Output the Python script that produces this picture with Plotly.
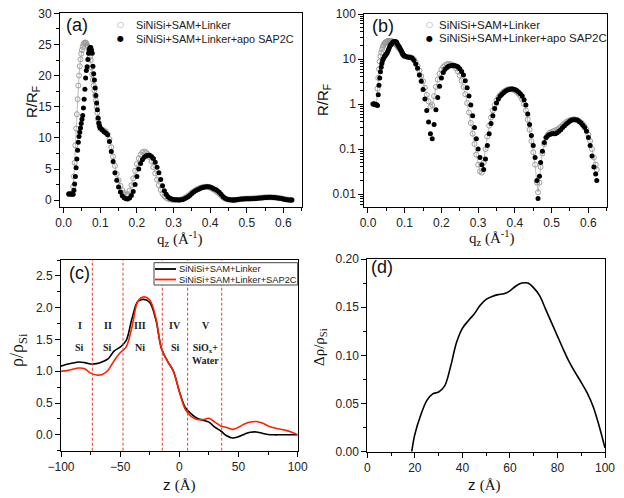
import plotly.graph_objects as go

# reflectivity data (panels a and b share the same data)
q = [0.014, 0.017, 0.020, 0.023, 0.026, 0.028, 0.030, 0.032, 0.034, 0.036, 0.038, 0.040,
     0.042, 0.044, 0.046, 0.048, 0.050, 0.052, 0.054, 0.056, 0.058, 0.060, 0.062, 0.064,
     0.066, 0.068, 0.070, 0.072, 0.074, 0.076, 0.078, 0.080, 0.082, 0.084, 0.086, 0.088,
     0.090, 0.092, 0.094, 0.096, 0.098, 0.100, 0.105, 0.110, 0.115, 0.120, 0.125, 0.130,
     0.135, 0.140, 0.145, 0.150, 0.155, 0.160, 0.165, 0.170, 0.175, 0.180, 0.185, 0.190,
     0.195, 0.200, 0.205, 0.210, 0.215, 0.220, 0.225, 0.230, 0.235, 0.240, 0.245, 0.250,
     0.255, 0.260, 0.265, 0.270, 0.275, 0.280, 0.285, 0.290, 0.295, 0.300, 0.305, 0.310,
     0.315, 0.320, 0.325, 0.330, 0.335, 0.340, 0.345, 0.350, 0.355, 0.360, 0.365, 0.370,
     0.375, 0.380, 0.385, 0.390, 0.395, 0.400, 0.405, 0.410, 0.415, 0.420, 0.425, 0.430,
     0.435, 0.440, 0.445, 0.450, 0.455, 0.460, 0.463, 0.467, 0.470, 0.475, 0.480, 0.485,
     0.490, 0.495, 0.500, 0.505, 0.510, 0.515, 0.520, 0.525, 0.530, 0.535, 0.540, 0.545,
     0.550, 0.555, 0.560, 0.565, 0.570, 0.575, 0.580, 0.585, 0.590, 0.595, 0.600, 0.605,
     0.610, 0.615, 0.620, 0.623]

r_linker = [1.0, 1.0, 0.98, 0.97, 2.2, 3.8, 6.0, 8.8, 11.5, 13.8, 16.2, 18.4,
            20.0, 21.5, 22.6, 23.5, 24.1, 24.6, 25.0, 25.2, 25.3, 25.3, 25.2, 24.9,
            24.6, 24.2, 23.6, 23.0, 22.5, 21.3, 20.2, 19.3, 18.4, 17.6, 16.8, 16.0,
            15.0, 14.0, 13.0, 12.3, 11.8, 11.5, 11.3, 11.2, 11.0, 10.6, 9.8, 8.5,
            7.0, 5.5, 4.2, 3.2, 2.3, 1.6, 1.15, 0.88, 0.95, 1.5, 2.4, 3.5,
            4.7, 5.8, 6.7, 7.3, 7.7, 7.8, 7.7, 7.4, 6.9, 6.2, 5.3, 4.3,
            3.3, 2.4, 1.65, 1.05, 0.65, 0.38, 0.22, 0.13, 0.075, 0.045, 0.032, 0.03,
            0.05, 0.1, 0.19, 0.33, 0.5, 0.72, 0.95, 1.2, 1.4, 1.6, 1.75, 1.9,
            2.0, 2.1, 2.15, 2.15, 2.1, 2.0, 1.85, 1.7, 1.5, 1.25, 1.0, 0.72,
            0.45, 0.27, 0.15, 0.085, 0.045, 0.018, 0.011, 0.018, 0.04, 0.08, 0.13, 0.18,
            0.21, 0.23, 0.24, 0.25, 0.26, 0.27, 0.29, 0.31, 0.34, 0.37, 0.40, 0.42,
            0.44, 0.45, 0.46, 0.45, 0.44, 0.42, 0.39, 0.36, 0.32, 0.27, 0.21, 0.15,
            0.10, 0.065, 0.045, 0.035]

r_sap2c = [1.0, 1.0, 0.98, 0.97, 0.93, 1.6, 2.6, 3.8, 5.2, 6.6, 8.0, 9.3,
           10.2, 10.9, 11.6, 12.3, 13.0, 13.6, 14.8, 16.2, 17.8, 19.6, 20.8, 21.4,
           22.6, 23.6, 24.2, 24.5, 24.5, 24.1, 23.6, 21.5, 20.3, 19.3, 18.0, 16.8,
           15.6, 14.5, 13.2, 12.4, 11.9, 11.6, 11.3, 11.0, 10.8, 10.5, 9.4, 7.8,
           6.2, 4.4, 3.2, 2.1, 1.3, 0.72, 0.40, 0.22, 0.17, 0.35, 0.75, 1.4,
           2.5, 3.8, 5.0, 5.9, 6.5, 6.9, 7.1, 7.2, 7.2, 7.0, 6.7, 6.1,
           5.3, 4.4, 3.3, 2.3, 1.5, 0.95, 0.55, 0.30, 0.17, 0.10, 0.065, 0.045,
           0.035, 0.06, 0.12, 0.22, 0.37, 0.55, 0.80, 1.05, 1.3, 1.5, 1.65, 1.8,
           1.95, 2.05, 2.1, 2.15, 2.15, 2.1, 2.0, 1.85, 1.7, 1.5, 1.25, 0.95,
           0.6, 0.35, 0.2, 0.12, 0.065, 0.02, 0.008, 0.025, 0.05, 0.09, 0.14, 0.18,
           0.2, 0.21, 0.22, 0.22, 0.22, 0.23, 0.25, 0.27, 0.30, 0.33, 0.36, 0.39,
           0.42, 0.44, 0.45, 0.45, 0.44, 0.41, 0.38, 0.34, 0.30, 0.25, 0.18, 0.12,
           0.07, 0.04, 0.028, 0.02]

# density profiles (panel c)
z_c = [-100, -95, -90, -85, -80, -75, -70, -65, -60, -55, -50, -45, -40, -35, -30, -25,
       -20, -15, -10, -5, 0, 5, 10, 15, 20, 25, 30, 35, 40, 45, 50, 55, 60, 65, 70, 75,
       80, 85, 90, 95, 100]
rho_linker = [1.08, 1.11, 1.13, 1.145, 1.135, 1.115, 1.12, 1.15, 1.2, 1.32, 1.38, 1.48,
              1.83, 2.1, 2.13, 2.08, 1.82, 1.35, 1.16, 1.0, 0.68, 0.43, 0.33, 0.26,
              0.23, 0.2, 0.12, 0.06, -0.015, -0.05, -0.03, 0.01, 0.04, 0.045, 0.025,
              0.005, 0.0, 0.0, 0.0, 0.0, 0.0]
rho_sap2c = [1.0, 1.01, 1.03, 1.05, 1.04, 0.97, 0.94, 0.95, 1.02, 1.17, 1.29, 1.38,
             1.7, 2.1, 2.17, 2.12, 1.85, 1.35, 1.16, 1.0, 0.68, 0.4, 0.29, 0.24,
             0.24, 0.26, 0.2, 0.14, 0.115, 0.085, 0.12, 0.17, 0.2, 0.21, 0.185,
             0.14, 0.11, 0.09, 0.07, 0.04, 0.0]
boundaries = [-73.5, -47.6, -14.4, 7.0, 35.8]
region_z = [-84, -60.6, -33.5, -3.4, 22.3]
region_num = ["I", "II", "III", "IV", "V"]
region_mat = ["Si", "Si", "Ni", "Si", "SiO<sub>x</sub>+<br>Water"]

# difference profile (panel d)
z_d = [18.7, 20, 22.5, 25, 27.5, 30, 32.5, 35, 37.5, 40, 42.5, 45, 47.5, 50, 52.5, 55,
       57.5, 60, 62.5, 65, 67.5, 70, 72.5, 75, 77.5, 80, 82.5, 85, 87.5, 90, 92.5, 95,
       97.5, 100]
drho = [0.0, 0.018, 0.038, 0.053, 0.060, 0.062, 0.068, 0.088, 0.113, 0.128, 0.136, 0.143,
        0.152, 0.158, 0.161, 0.163, 0.164, 0.167, 0.172, 0.175, 0.175, 0.17, 0.162, 0.148,
        0.134, 0.12, 0.106, 0.093, 0.082, 0.072, 0.061, 0.047, 0.027, 0.004]

name_linker = "SiNiSi+SAM+Linker"
name_apo = "SiNiSi+SAM+Linker+apo SAP2C"
name_sap2c = "SiNiSi+SAM+Linker+SAP2C"

W, H = 624, 498
SANS = "Liberation Sans, Arial"
SERIF = "Liberation Serif, Times New Roman"
OPEN_GRAY = "#959595"
RED = "#ff2200"

def px(x, y):
    return x / W, 1 - y / H

fig = go.Figure()

for xa, ya in [("x", "y"), ("x2", "y2")]:
    fig.add_trace(go.Scatter(x=q, y=r_linker, xaxis=xa, yaxis=ya, mode="lines",
                             line=dict(color="#a0a0a0", width=0.7)))
    fig.add_trace(go.Scatter(x=q, y=r_linker, xaxis=xa, yaxis=ya, mode="markers",
                             name=name_linker,
                             marker=dict(symbol="circle-open", size=5, color=OPEN_GRAY,
                                         line=dict(width=0.9, color=OPEN_GRAY))))
    fig.add_trace(go.Scatter(x=q, y=r_sap2c, xaxis=xa, yaxis=ya, mode="markers",
                             name=name_apo,
                             marker=dict(symbol="circle", size=5, color="black")))

fig.add_trace(go.Scatter(x=z_c, y=rho_linker, xaxis="x3", yaxis="y3", mode="lines",
                         name=name_linker,
                         line=dict(color="black", width=1.6, shape="spline")))
fig.add_trace(go.Scatter(x=z_c, y=rho_sap2c, xaxis="x3", yaxis="y3", mode="lines",
                         name=name_sap2c,
                         line=dict(color=RED, width=1.6, shape="spline")))
fig.add_trace(go.Scatter(x=z_d, y=drho, xaxis="x4", yaxis="y4", mode="lines",
                         line=dict(color="black", width=1.6, shape="spline")))


def axis(domain, rng, dtick, mdtick, anchor, **kw):
    d = dict(domain=domain, range=rng, dtick=dtick, tick0=0, anchor=anchor,
             automargin=False,
             showline=True, mirror=True, linecolor="black", linewidth=1,
             ticks="outside", ticklen=5, tickcolor="black", showgrid=False, zeroline=False,
             tickfont=dict(family=SANS, size=12, color="#222"),
             minor=dict(dtick=mdtick, ticks="outside", ticklen=3, tickcolor="black"))
    d.update(kw)
    return d

log_minor = [m * 10 ** e for e in range(-3, 2) for m in range(2, 10)]

fig.update_layout(
    template="none",
    width=W, height=H, margin=dict(l=0, r=0, t=0, b=0, autoexpand=False), showlegend=False,
    paper_bgcolor="white", plot_bgcolor="white",
    xaxis=axis([60 / W, 301.7 / W], [-0.01, 0.65], 0.1, 0.05, "y", tickformat=".1f"),
    yaxis=axis([1 - 207 / H, 1 - 13.3 / H], [-1.1, 30], 5, 2.5, "x"),
    xaxis2=axis([364.3 / W, 606.7 / W], [-0.01, 0.65], 0.1, 0.05, "y2", tickformat=".1f"),
    yaxis2=axis([1 - 206.7 / H, 1 - 14 / H], [-2.28, 2], None, None, "x2", type="log",
                tickvals=[0.01, 0.1, 1, 10, 100], ticktext=["0.01", "0.1", "1", "10", "100"],
                minor=dict(tickvals=log_minor, ticks="outside", ticklen=3, tickcolor="black")),
    xaxis3=axis([61 / W, 297.7 / W], [-100, 100], 50, 25, "y3"),
    yaxis3=axis([1 - 450.7 / H, 1 - 260 / H], [-0.25, 2.75], 0.5, 0.25, "x3",
                tickformat=".1f"),
    xaxis4=axis([367.3 / W, 605 / W], [0, 100], 20, 10, "y4"),
    yaxis4=axis([1 - 451.7 / H, 1 - 259 / H], [0, 0.2], 0.05, 0.025, "x4",
                tickformat=".2f"),
)

shapes = []
for b in boundaries:
    shapes.append(dict(type="line", xref="x3", yref="y3 domain", x0=b, x1=b, y0=0, y1=1,
                       line=dict(color="#e04030", width=1, dash="3px,2px")))

# legend box for panel (c)
x0, y0 = px(154, 262.7)
x1, y1 = px(297.7, 285)
shapes.append(dict(type="rect", xref="paper", yref="paper", x0=x0, x1=x1, y0=y1, y1=y0,
                   fillcolor="white", line=dict(color="#444", width=1)))
for yy, col in [(269, "black"), (279.5, RED)]:
    a0, b0 = px(155, yy)
    a1, _ = px(176, yy)
    shapes.append(dict(type="line", xref="paper", yref="paper", x0=a0, x1=a1, y0=b0, y1=b0,
                       line=dict(color=col, width=1.8)))

ann = []
def label(x, y, text, size, family=SANS, angle=0, anchor="center", color="#111"):
    xx, yy = px(x, y)
    ann.append(dict(x=xx, y=yy, xref="paper", yref="paper", text=text, showarrow=False,
                    textangle=angle, font=dict(family=family, size=size, color=color),
                    xanchor=anchor, yanchor="middle"))

label(76.5, 25, "(a)", 18)
label(383, 26, "(b)", 18)
label(79, 273, "(c)", 18)
label(382, 267, "(d)", 18)
label(32, 102, "R/R<sub>F</sub>", 15, angle=-90)
label(323, 100, "R/R<sub>F</sub>", 15, angle=-90)
label(180, 239, "q<sub>z</sub> (Å<sup>-1</sup>)", 15, family=SERIF)
label(492, 238, "q<sub>z</sub> (Å<sup>-1</sup>)", 15, family=SERIF)
label(18, 350, "ρ/ρ<sub>Si</sub>", 18, family=SERIF, angle=-90)
label(320, 347, "Δρ/ρ<sub>Si</sub>", 15, family=SERIF, angle=-90)
label(180, 485, "z <span style='font-family:Liberation Serif'>(Å)</span>", 15)
label(484, 485, "z <span style='font-family:Liberation Serif'>(Å)</span>", 15)

# legends (a) and (b)
for sx, tx, ry, fs in [(120.7, 134, (25, 39), 10.8), (429, 437, (25, 38), 11.5)]:
    label(sx, ry[0], "○", 8, family="DejaVu Sans", color=OPEN_GRAY)
    label(sx, ry[1], "●", 8, family="DejaVu Sans", color="black")
    label(tx, ry[0], name_linker, fs, anchor="left", color="#222")
    label(tx, ry[1], name_apo, fs, anchor="left", color="#222")
# legend (c)
label(177, 269, name_linker, 9.3, anchor="left", color="#222")
label(177, 279.5, name_sap2c, 9.3, anchor="left", color="#222")

for zz, num, mat in zip(region_z, region_num, region_mat):
    ann.append(dict(x=zz, y=1.72, xref="x3", yref="y3", text="<b>%s</b>" % num,
                    showarrow=False, font=dict(family=SERIF, size=10, color="#222")))
    ann.append(dict(x=zz, y=1.38, xref="x3", yref="y3", text="<b>%s</b>" % mat,
                    showarrow=False, yanchor="top" if "Water" in mat else "middle",
                    yshift=7 if "Water" in mat else 0,
                    font=dict(family=SERIF, size=10, color="#222")))

fig.update_layout(annotations=ann, shapes=shapes)
fig.write_html("out.html", config={"displayModeBar": False},
               post_script="document.body.style.margin='0px';")
